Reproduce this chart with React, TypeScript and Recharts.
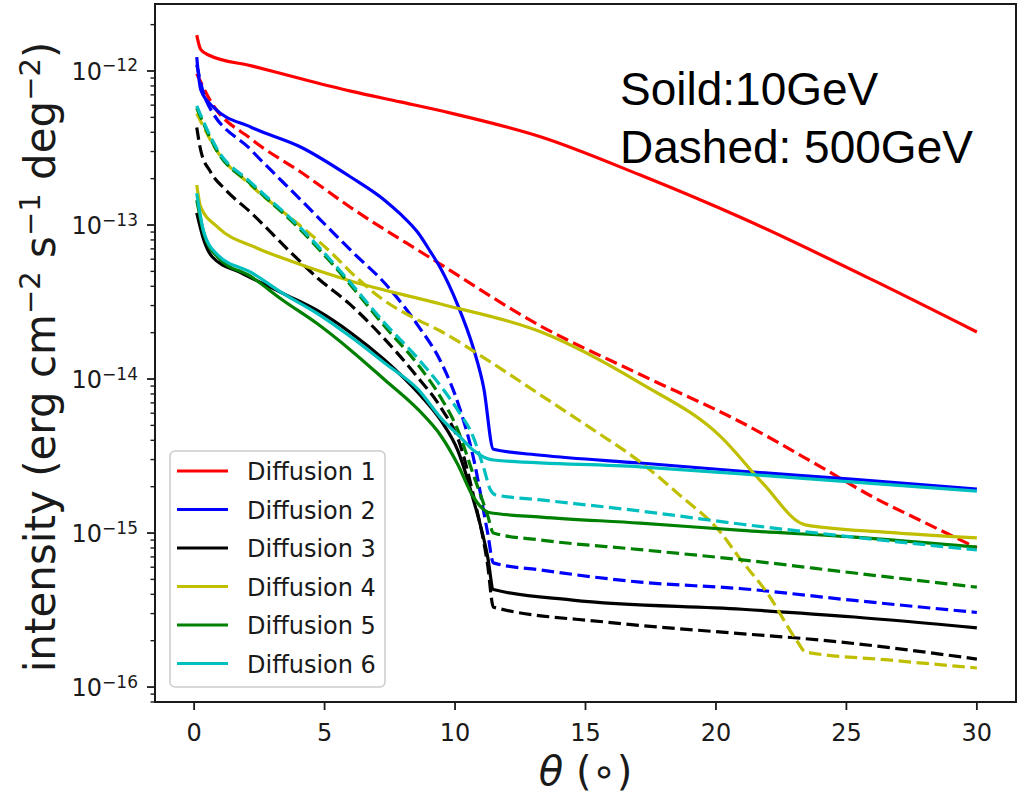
import React from "react";
import { LineChart, Line, XAxis, YAxis, Legend, ReferenceArea, Label } from "recharts";

// [theta (deg), intensity (erg cm^-2 s^-1 deg^-2)]
type Pt = [number, number];

const thetaTicks = [0, 5, 10, 15, 20, 25, 30];
const decades = [-16, -15, -14, -13, -12];
const seriesNames = ["Diffusion 1", "Diffusion 2", "Diffusion 3", "Diffusion 4", "Diffusion 5", "Diffusion 6"];
const seriesColors = ["#ff0000", "#0000ff", "#000000", "#bfbf00", "#008000", "#00bfbf"];

// solid: 10 GeV
const solid1: Pt[] = [[0.1, 1.71e-12], [0.25, 1.38e-12], [0.55, 1.27e-12], [2.2, 1.08e-12], [4.1, 8.9e-13], [6, 7.4e-13], [7.9, 6.3e-13], [9.8, 5.35e-13], [13.3, 3.73e-13], [17.1, 2.11e-13], [21, 1.11e-13], [26, 4.4e-14], [30, 2.02e-14]];
const solid2: Pt[] = [[0.1, 1.23e-12], [0.25, 7.6e-13], [0.75, 5.8e-13], [2.2, 4.3e-13], [4.1, 3.2e-13], [6, 2.05e-13], [7.3, 1.45e-13], [7.9, 1.18e-13], [8.56, 9.0e-14], [9.06, 6.7e-14], [9.44, 5.26e-14], [10.1, 3.03e-14], [10.7, 1.59e-14], [11.1, 8.75e-15], [11.47, 3.5e-15], [13.3, 3.2e-15], [17.1, 2.85e-15], [21, 2.52e-15], [25.3, 2.23e-15], [30, 1.93e-15]];
const solid3: Pt[] = [[0.1, 1.2e-13], [0.37, 8.0e-14], [0.7, 6.2e-14], [1.8, 4.9e-14], [3.4, 3.6e-14], [4.7, 2.8e-14], [6, 2.0e-14], [7.3, 1.33e-14], [8.6, 8.1e-15], [9.45, 5.4e-15], [10.1, 3.45e-15], [10.7, 1.65e-15], [11.25, 7.0e-16], [11.47, 4.3e-16], [14.5, 3.67e-16], [21, 3.2e-16], [25.3, 2.85e-16], [30, 2.42e-16]];
const solid4: Pt[] = [[0.1, 1.82e-13], [0.25, 1.31e-13], [0.9, 9.7e-14], [2.4, 7.1e-14], [3.7, 5.83e-14], [6, 4.33e-14], [9.45, 3.07e-14], [13.3, 2.02e-14], [17.1, 9.4e-15], [20.2, 4.2e-15], [21.8, 2.1e-15], [23.43, 1.13e-15], [26.6, 1.01e-15], [30, 9.3e-16]];
const solid5: Pt[] = [[0.1, 1.45e-13], [0.4, 8.5e-14], [0.9, 6.2e-14], [2.2, 4.6e-14], [3.4, 3.25e-14], [4.7, 2.3e-14], [6, 1.54e-14], [7.3, 9.9e-15], [8.6, 6.3e-15], [9.45, 4.3e-15], [10.1, 2.8e-15], [10.7, 1.72e-15], [11.3, 1.36e-15], [13.3, 1.27e-15], [17.1, 1.16e-15], [21, 1.04e-15], [25.3, 9.4e-16], [30, 8.1e-16]];
const solid6: Pt[] = [[0.1, 1.61e-13], [0.37, 9.0e-14], [0.9, 6.4e-14], [2.2, 4.9e-14], [3.4, 3.6e-14], [4.7, 2.68e-14], [6, 1.88e-14], [7.3, 1.27e-14], [8.6, 8.5e-15], [9.45, 5.6e-15], [10.2, 4.2e-15], [10.7, 3.45e-15], [11.47, 2.98e-15], [17.1, 2.69e-15], [21, 2.42e-15], [25.3, 2.14e-15], [30, 1.87e-15]];

// dashed: 500 GeV
const dashed1: Pt[] = [[0.1, 9.6e-13], [0.6, 6.5e-13], [2.2, 3.6e-13], [4.1, 2.2e-13], [6, 1.3e-13], [9, 6.2e-14], [13.3, 2.2e-14], [17.1, 1.07e-14], [21, 5.2e-15], [24, 2.7e-15], [26, 1.72e-15], [28, 1.17e-15], [30, 8.0e-16]];
const dashed2: Pt[] = [[0.1, 1.1e-12], [0.45, 6.5e-13], [2.2, 3.05e-13], [4.1, 1.45e-13], [6.1, 6.6e-14], [7.3, 4.2e-14], [8.6, 2.2e-14], [9.45, 1.3e-14], [10.2, 6.3e-15], [10.7, 3.1e-15], [11.25, 1.0e-15], [11.47, 6.4e-16], [13.3, 5.75e-16], [17.1, 4.8e-16], [21, 4.35e-16], [25.3, 3.65e-16], [30, 3.05e-16]];
const dashed3: Pt[] = [[0.1, 4.3e-13], [0.25, 3.07e-13], [0.63, 2.21e-13], [1.21, 1.69e-13], [2.16, 1.21e-13], [3.81, 6.38e-14], [4.73, 4.53e-14], [6, 3.03e-14], [7.26, 1.85e-14], [8.56, 1.03e-14], [9.44, 6.58e-15], [10.2, 3.72e-15], [10.7, 1.77e-15], [11.25, 6.2e-16], [11.47, 3.3e-16], [15.8, 2.64e-16], [20.7, 2.24e-16], [24, 2.02e-16], [30, 1.52e-16]];
const dashed4: Pt[] = [[0.1, 5.3e-13], [0.9, 2.98e-13], [2.16, 1.82e-13], [4.08, 9.86e-14], [5.23, 6.68e-14], [6, 4.95e-14], [7.26, 3.26e-14], [8.29, 2.56e-14], [9.44, 2.05e-14], [11.36, 1.29e-14], [13.28, 7.87e-15], [15.2, 4.8e-15], [17.1, 2.89e-15], [18.6, 1.77e-15], [20.2, 1.0e-15], [20.9, 6.9e-16], [22, 4.0e-16], [23.1, 2.0e-16], [23.43, 1.69e-16], [26.6, 1.5e-16], [30, 1.33e-16]];
const dashed5: Pt[] = [[0.1, 5.75e-13], [0.9, 2.98e-13], [2.16, 1.85e-13], [4.08, 9.3e-14], [5.23, 5.75e-14], [6, 4.07e-14], [7.26, 2.24e-14], [8.56, 1.25e-14], [9.45, 7.6e-15], [10.1, 4.7e-15], [10.7, 2.4e-15], [11.25, 1.3e-15], [11.47, 1.0e-15], [13.3, 9.0e-16], [17.1, 7.8e-16], [21, 6.7e-16], [25.3, 5.5e-16], [30, 4.45e-16]];
const dashed6: Pt[] = [[0.1, 5.93e-13], [0.9, 3.07e-13], [2.16, 1.9e-13], [4.08, 9.57e-14], [5.23, 5.93e-14], [6, 4.2e-14], [7.26, 2.35e-14], [8.56, 1.37e-14], [9.56, 8.5e-15], [10.1, 6.3e-15], [10.7, 4.2e-15], [11.1, 2.64e-15], [11.36, 1.9e-15], [11.55, 1.77e-15], [13.3, 1.64e-15], [17.1, 1.39e-15], [21, 1.14e-15], [25.3, 9.4e-16], [30, 7.76e-16]];

const solids = [solid1, solid2, solid3, solid4, solid5, solid6];
const dashes = [dashed1, dashed2, dashed3, dashed4, dashed5, dashed6];

const X_DOMAIN: [number, number] = [-1.5, 31.5];
const Y_DOMAIN: [number, number] = [Math.pow(10, -16.097), Math.pow(10, -11.565)];

const FONT = "DejaVu Sans, sans-serif";
const INK = "#1a1a1a";

// major + minor log ticks inside the domain
const yTicks: number[] = [];
for (let e = -17; e <= -12; e++) {
  for (let k = 1; k <= 9; k++) {
    const v = k * Math.pow(10, e);
    if (v >= Y_DOMAIN[0] && v <= Y_DOMAIN[1]) yTicks.push(v);
  }
}

const toRows = (pts: Pt[]) => pts.map(([t, v]) => ({ t, v }));

const XTick = ({ x, y, payload }: any) => (
  <g>
    <line x1={x} x2={x} y1={y} y2={y + 8} stroke={INK} strokeWidth={1.8} />
    <text x={x} y={y + 39} textAnchor="middle" fontFamily={FONT} fontSize={24} fill={INK}>
      {payload.value}
    </text>
  </g>
);

const YTick = ({ x, y, payload }: any) => {
  const lg = Math.log10(payload.value);
  const e = Math.round(lg);
  const major = Math.abs(lg - e) < 1e-6 && decades.includes(e);
  return (
    <g>
      <line x1={x} x2={x - (major ? 8 : 4.5)} y1={y} y2={y} stroke={INK} strokeWidth={major ? 1.8 : 1.4} />
      {major && (
        <text x={x - 17} y={y + 9} textAnchor="end" fontFamily={FONT} fontSize={24} fill={INK}>
          10
          <tspan dy={-8.5} fontSize={17}>{`\u2212${-e}`}</tspan>
        </text>
      )}
    </g>
  );
};

const YTitle = (props: any) => {
  const vb = props.viewBox || { y: 4, height: 698 };
  const cy = vb.y + vb.height / 2 + 4;
  const up = -15;
  return (
    <text transform={`translate(55, ${cy}) rotate(-90)`} textAnchor="middle" fontFamily={FONT} fontSize={42} fill={INK}>
      intensity (erg cm
      <tspan dy={up} fontSize={29}>{"\u22122"}</tspan>
      <tspan dy={-up}> s</tspan>
      <tspan dy={up} fontSize={29}>{"\u22121"}</tspan>
      <tspan dy={-up}> deg</tspan>
      <tspan dy={up} fontSize={29}>{"\u22122"}</tspan>
      <tspan dy={-up}>)</tspan>
    </text>
  );
};

const XTitle = (props: any) => {
  const vb = props.viewBox || { x: 155, width: 861, y: 702 };
  const cx = vb.x + vb.width / 2;
  return (
    <text x={cx} y={vb.y + 83} textAnchor="middle" fontFamily={FONT} fontSize={40} fill={INK}>
      <tspan fontStyle="italic">{"\u03b8"}</tspan> ({"\u2218"})
    </text>
  );
};

const renderLegend = () => (
  <svg width={217} height={238} style={{ display: "block" }}>
    <rect x={1} y={1} width={215} height={236} rx={5} fill="#ffffff" fillOpacity={0.8} stroke="#cccccc" strokeWidth={1.5} />
    {seriesNames.map((name, i) => {
      const cy = 21 + i * 38.5;
      return (
        <g key={name}>
          <line x1={8} x2={59} y1={cy} y2={cy} stroke={seriesColors[i]} strokeWidth={3.2} />
          <text x={78} y={cy + 9} fontFamily={FONT} fontSize={24} fill={INK}>
            {name}
          </text>
        </g>
      );
    })}
  </svg>
);

export default function App() {
  return (
    <div style={{ position: "absolute", left: 0, top: 0, width: 1027, height: 796, background: "#fff" }}>
      <LineChart width={1027} height={796} margin={{ top: 4, right: 11, bottom: 0, left: 0 }}>
        <XAxis
          dataKey="t"
          type="number"
          domain={X_DOMAIN}
          ticks={thetaTicks}
          allowDataOverflow
          axisLine={false}
          tickLine={false}
          tickSize={0}
          tickMargin={0}
          interval={0}
          height={94}
          tick={<XTick />}
        >
          <Label content={<XTitle />} />
        </XAxis>
        <YAxis
          type="number"
          scale="log"
          domain={Y_DOMAIN}
          ticks={yTicks}
          allowDataOverflow
          axisLine={false}
          tickLine={false}
          tickSize={0}
          tickMargin={0}
          interval={0}
          width={155}
          tick={<YTick />}
        >
          <Label content={<YTitle />} />
        </YAxis>
        {solids.map((pts, i) => [
          <Line
            key={`s${i}`}
            data={toRows(pts)}
            dataKey="v"
            name={seriesNames[i]}
            type="monotone"
            stroke={seriesColors[i]}
            strokeWidth={3.2}
            dot={false}
            activeDot={false}
            legendType="none"
            isAnimationActive={false}
          />,
          <Line
            key={`d${i}`}
            data={toRows(dashes[i])}
            dataKey="v"
            name={`${seriesNames[i]} (500GeV)`}
            type="monotone"
            stroke={seriesColors[i]}
            strokeWidth={3.2}
            strokeDasharray="12.5 5.5"
            dot={false}
            activeDot={false}
            legendType="none"
            isAnimationActive={false}
          />,
        ])}
        <ReferenceArea
          x1={X_DOMAIN[0]}
          x2={X_DOMAIN[1]}
          y1={Y_DOMAIN[0]}
          y2={Y_DOMAIN[1]}
          fill="none"
          stroke={INK}
          strokeWidth={2}
          ifOverflow="visible"
        />
        <Legend
          layout="horizontal"
          verticalAlign="middle"
          align="center"
          content={renderLegend}
          wrapperStyle={{ left: 169, top: 450, width: 217, height: 238 }}
        />
      </LineChart>
      <svg width={1027} height={796} style={{ position: "absolute", left: 0, top: 0, pointerEvents: "none" }}>
        <text x={620} y={105} fontFamily="Liberation Sans, Arial, sans-serif" fontSize={46} fill="#000">
          Soild:10GeV
        </text>
        <text x={620} y={163} fontFamily="Liberation Sans, Arial, sans-serif" fontSize={46} fill="#000">
          Dashed: 500GeV
        </text>
      </svg>
    </div>
  );
}
